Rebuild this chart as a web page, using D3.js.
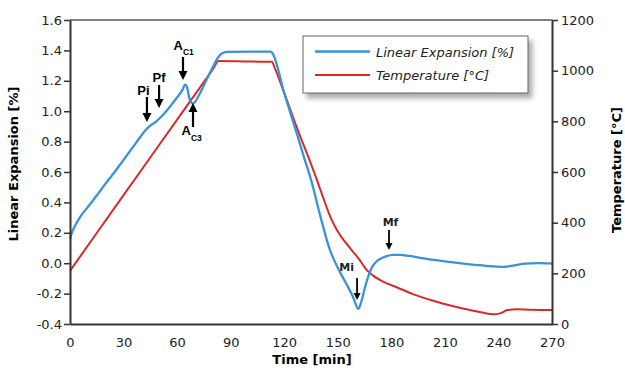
<!DOCTYPE html>
<html>
<head>
<meta charset="utf-8">
<script src="https://d3js.org/d3.v7.min.js"></script>
<style>
    body { margin: 0; background: #fff; }
    svg { display: block; }
    text { font-family: "DejaVu Sans", sans-serif; }
</style>
</head>
<body>
<div id="chart"></div>
<script>
    // tick labels
    var timeTicks = [0, 30, 60, 90, 120, 150, 180, 210, 240, 270];
    var expansionTicks = [-0.4, -0.2, 0.0, 0.2, 0.4, 0.6, 0.8, 1.0, 1.2, 1.4, 1.6];
    var temperatureTicks = [0, 200, 400, 600, 800, 1000, 1200];

    // linear expansion [%] vs time [min]
    var expansionTime = [0, 1, 3, 6, 10, 15, 20, 25, 30, 35, 40, 43, 45.5, 48, 52, 56, 60, 63, 64.5, 65.5, 67, 69, 72, 76, 80, 83, 85, 88, 100, 112.5, 113.5, 120, 127, 131, 135, 140, 145.6, 150, 155, 158.5, 161.5, 163, 165, 167, 169, 171.5, 174, 177, 181, 185, 190, 198, 208, 218, 228, 236, 243, 249, 255, 262, 270];
    var expansionValue = [0.16, 0.2, 0.25, 0.31, 0.37, 0.445, 0.525, 0.6, 0.68, 0.76, 0.84, 0.885, 0.91, 0.93, 0.975, 1.03, 1.09, 1.14, 1.175, 1.16, 1.08, 1.05, 1.1, 1.195, 1.29, 1.355, 1.38, 1.39, 1.392, 1.392, 1.38, 1.12, 0.855, 0.7, 0.55, 0.32, 0.087, -0.03, -0.14, -0.22, -0.3, -0.26, -0.17, -0.09, -0.03, 0.01, 0.03, 0.045, 0.055, 0.055, 0.048, 0.032, 0.015, 0.0, -0.012, -0.02, -0.024, -0.014, -0.003, 0.0, -0.002];

    // temperature [°C] vs time [min]
    var temperatureTime = [0, 20, 40, 60, 80, 83.3, 100, 113, 115, 120, 125, 129, 134, 138, 142, 146, 150, 154, 158, 162, 166, 170, 176, 183, 192, 202, 212, 224, 231, 237, 241, 245, 250, 258, 265, 270];
    var temperatureValue = [210, 409, 608, 807, 1005, 1038, 1036, 1035, 1005, 912, 815, 740, 650, 575, 495, 420, 365, 325, 290, 255, 215, 190, 165, 145, 118, 95, 75, 55, 45, 38, 42, 55, 58, 56, 55, 55];

    // transformation markers (arrow tip on the expansion axis)
    var markerNames = ["Pi", "Pf", "A", "A", "Mi", "Mf"];
    var markerSubs = ["", "", "C1", "C3", "", ""];
    var markerTime = [43.1, 49.9, 63.3, 68.9, 160.8, 178.7];
    var markerValue = [0.929, 1.021, 1.205, 1.054, -0.242, 0.087];

    var legendLabels = ["Linear Expansion [%]", "Temperature [°C]"];

    var width = 625, height = 372;
    var margin = { top: 20, right: 73, bottom: 48, left: 70 };
    var blue = "#3a93d6", red = "#d42b2b", axisColor = "#333";

    var svg = d3.select("#chart")
        .append("svg")
        .attr("width", width)
        .attr("height", height);

    var x = d3.scaleLinear().domain([0, 270]).range([margin.left, width - margin.right]);
    var yLeft = d3.scaleLinear().domain([-0.4, 1.6]).range([height - margin.bottom, margin.top]);
    var yRight = d3.scaleLinear().domain([0, 1200]).range([height - margin.bottom, margin.top]);

    // drop shadow for the legend box
    var filter = svg.append("defs").append("filter")
        .attr("id", "shadow")
        .attr("x", "-10%").attr("y", "-20%")
        .attr("width", "130%").attr("height", "160%");
    filter.append("feDropShadow")
        .attr("dx", 4).attr("dy", 5)
        .attr("stdDeviation", 2.5)
        .attr("flood-color", "#777")
        .attr("flood-opacity", 0.6);

    // top frame line
    svg.append("line")
        .attr("x1", x(0)).attr("x2", x(270))
        .attr("y1", yLeft(1.6)).attr("y2", yLeft(1.6))
        .attr("stroke", "#555")
        .attr("stroke-width", 1.5);

    // series
    var expansionLine = d3.line()
        .x(function(d, i) { return x(expansionTime[i]); })
        .y(function(d) { return yLeft(d); })
        .curve(d3.curveMonotoneX);
    var temperatureLine = d3.line()
        .x(function(d, i) { return x(temperatureTime[i]); })
        .y(function(d) { return yRight(d); })
        .curve(d3.curveMonotoneX);

    svg.append("path")
        .datum(temperatureValue)
        .attr("d", temperatureLine)
        .attr("fill", "none")
        .attr("stroke", red)
        .attr("stroke-width", 2);
    svg.append("path")
        .datum(expansionValue)
        .attr("d", expansionLine)
        .attr("fill", "none")
        .attr("stroke", blue)
        .attr("stroke-width", 2.3);

    // axes
    var bottomAxis = svg.append("g")
        .attr("transform", "translate(0," + (height - margin.bottom) + ")")
        .call(d3.axisBottom(x).tickValues(timeTicks).tickSize(0).tickPadding(14).tickSizeOuter(0));
    var leftAxis = svg.append("g")
        .attr("transform", "translate(" + margin.left + ",0)")
        .call(d3.axisLeft(yLeft).tickValues(expansionTicks).tickSize(6).tickPadding(2).tickSizeOuter(0)
            .tickFormat(function(d) { return d.toFixed(1); }));
    var rightAxis = svg.append("g")
        .attr("transform", "translate(" + (width - margin.right) + ",0)")
        .call(d3.axisRight(yRight).tickValues(temperatureTicks).tickSize(6).tickPadding(3).tickSizeOuter(0)
            .tickFormat(d3.format("d")));

    [bottomAxis, leftAxis, rightAxis].forEach(function(g) {
        g.select(".domain").attr("stroke", axisColor).attr("stroke-width", 2);
        g.selectAll(".tick line").attr("stroke", axisColor).attr("stroke-width", 1.5);
        g.selectAll(".tick text")
            .attr("fill", "#222")
            .style("font-family", "DejaVu Sans")
            .style("font-size", "13px");
    });

    // axis titles
    svg.append("text")
        .attr("x", (x(0) + x(270)) / 2 + 1)
        .attr("y", 364)
        .attr("text-anchor", "middle")
        .style("font-size", "13px")
        .style("font-weight", "bold")
        .text("Time [min]");
    svg.append("text")
        .attr("transform", "translate(18," + 164 + ") rotate(-90)")
        .attr("text-anchor", "middle")
        .style("font-size", "13px")
        .style("font-weight", "bold")
        .text("Linear Expansion [%]");
    svg.append("text")
        .attr("transform", "translate(621," + 170 + ") rotate(-90)")
        .attr("text-anchor", "middle")
        .style("font-size", "13px")
        .style("font-weight", "bold")
        .text("Temperature [°C]");

    // markers: arrow length, label offset from tip, arrow direction
    var markerStyle = [
        { len: 25, dir: 1, dx: -3.5, dy: -27, anchor: "middle", font: "Liberation Sans", size: 13, head: 9 },
        { len: 23, dir: 1, dx: 0, dy: -26, anchor: "middle", font: "Liberation Sans", size: 13, head: 9 },
        { len: 23, dir: 1, dx: -9.5, dy: -30, anchor: "start", font: "Liberation Sans", size: 13, head: 9 },
        { len: 24, dir: -1, dx: -11.5, dy: 32, anchor: "start", font: "Liberation Sans", size: 13, head: 9 },
        { len: 22, dir: 1, dx: -10.5, dy: -28.5, anchor: "middle", font: "DejaVu Sans", size: 11, head: 7 },
        { len: 20, dir: 1, dx: 1.5, dy: -24, anchor: "middle", font: "DejaVu Sans", size: 11, head: 7 }
    ];

    var markers = svg.append("g").attr("class", "markers");
    markerNames.forEach(function(name, i) {
        var s = markerStyle[i];
        var tx = x(markerTime[i]);
        var ty = yLeft(markerValue[i]);
        var tail = ty - s.dir * s.len;
        var base = ty - s.dir * s.head;
        markers.append("line")
            .attr("x1", tx).attr("x2", tx)
            .attr("y1", tail).attr("y2", base)
            .attr("stroke", "#000")
            .attr("stroke-width", s.head > 8 ? 2.2 : 1.8);
        markers.append("path")
            .attr("d", "M" + (tx - s.head / 2) + "," + base + "L" + (tx + s.head / 2) + "," + base + "L" + tx + "," + ty + "Z")
            .attr("fill", "#000");
        var label = markers.append("text")
            .attr("x", tx + s.dx)
            .attr("y", ty + s.dy)
            .attr("text-anchor", s.anchor)
            .attr("fill", s.head > 8 ? "#000" : "#222")
            .style("font-family", s.font)
            .style("font-size", s.size + "px")
            .style("font-weight", "bold")
            .text(name);
        if (markerSubs[i]) {
            label.append("tspan")
                .attr("dy", s.dir > 0 ? 5 : 6.5)
                .style("font-size", "8.5px")
                .text(markerSubs[i]);
        }
    });

    // legend
    var legend = svg.append("g").attr("transform", "translate(303,36)");
    legend.append("rect")
        .attr("width", 225)
        .attr("height", 57)
        .attr("fill", "#fff")
        .attr("stroke", "#666")
        .attr("stroke-width", 1)
        .attr("filter", "url(#shadow)");
    legend.selectAll(".entry")
        .data(legendLabels)
        .enter()
        .append("g")
        .attr("class", "entry")
        .attr("transform", function(d, i) { return "translate(0," + (15.5 + i * 23.5) + ")"; })
        .each(function(d, i) {
            var g = d3.select(this);
            g.append("line")
                .attr("x1", 12).attr("x2", 67)
                .attr("stroke", i === 0 ? blue : red)
                .attr("stroke-width", i === 0 ? 2.3 : 2);
            g.append("text")
                .attr("x", 73)
                .attr("y", 5)
                .attr("fill", "#222")
                .style("font-size", "13px")
                .style("font-style", "italic")
                .text(d);
        });
</script>
</body>
</html>
